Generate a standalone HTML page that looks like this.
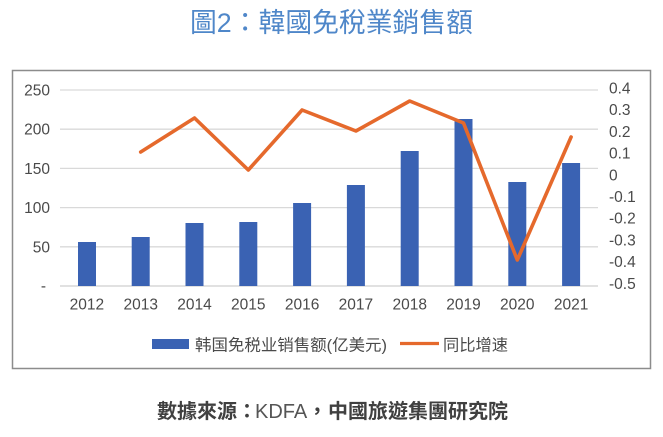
<!DOCTYPE html>
<html>
<head>
<meta charset="utf-8">
<style>
html,body{margin:0;padding:0;background:#fff;}
body{width:663px;height:437px;overflow:hidden;}
svg{display:block;}
text{font-family:"Liberation Sans","Noto Sans CJK SC",sans-serif;}
</style>
</head>
<body>
<svg width="663" height="437" viewBox="0 0 663 437" xmlns="http://www.w3.org/2000/svg">
  <rect x="0" y="0" width="663" height="437" fill="#ffffff"/>
  <!-- Title -->
  <text x="190" y="32" font-size="27" fill="#4f87c9" textLength="283" lengthAdjust="spacingAndGlyphs" style="font-family:'Liberation Sans','Noto Sans CJK TC',sans-serif;">圖2：韓國免稅業銷售額</text>

  <!-- Frame -->
  <rect x="12.5" y="70.5" width="638" height="298" fill="#ffffff" stroke="#8c8c8c" stroke-width="1.5"/>

  <!-- Gridlines -->
  <g stroke="#d9d9d9" stroke-width="1.3">
    <line x1="60" y1="90" x2="598" y2="90"/>
    <line x1="60" y1="129.2" x2="598" y2="129.2"/>
    <line x1="60" y1="168.4" x2="598" y2="168.4"/>
    <line x1="60" y1="207.6" x2="598" y2="207.6"/>
    <line x1="60" y1="246.8" x2="598" y2="246.8"/>
    <line x1="60" y1="286" x2="598" y2="286" stroke="#cfcfcf"/>
  </g>

  <!-- Bars -->
  <g fill="#3a62b3">
    <rect x="78" y="242" width="18" height="44"/>
    <rect x="131.7" y="237" width="18" height="49"/>
    <rect x="185.5" y="223" width="18" height="63"/>
    <rect x="239.3" y="222" width="18" height="64"/>
    <rect x="293.1" y="203" width="18" height="83"/>
    <rect x="346.9" y="185" width="18" height="101"/>
    <rect x="400.7" y="151" width="18" height="135"/>
    <rect x="454.5" y="119" width="18" height="167"/>
    <rect x="508.3" y="182" width="18" height="104"/>
    <rect x="562.1" y="163" width="18" height="123"/>
  </g>

  <!-- Line -->
  <polyline fill="none" stroke="#e5692c" stroke-width="3.6" stroke-linejoin="round" stroke-linecap="round"
    points="140.7,152 194.5,118 248.3,170 302.1,110 355.9,131 409.7,101 463.5,123 517.3,260 571.1,137"/>

  <!-- Left axis labels -->
  <g font-size="15.5" fill="#4a4a4a" text-anchor="end">
    <text x="50" y="95.5">250</text>
    <text x="50" y="134.7">200</text>
    <text x="50" y="173.9">150</text>
    <text x="50" y="213.1">100</text>
    <text x="50" y="252.3">50</text>
    <text x="46" y="291">-</text>
  </g>

  <!-- Right axis labels -->
  <g font-size="15.5" fill="#4a4a4a" text-anchor="start">
    <text x="609" y="93.5">0.4</text>
    <text x="609" y="115.2">0.3</text>
    <text x="609" y="136.9">0.2</text>
    <text x="609" y="158.6">0.1</text>
    <text x="609" y="180.3">0</text>
    <text x="609" y="202">-0.1</text>
    <text x="609" y="223.7">-0.2</text>
    <text x="609" y="245.4">-0.3</text>
    <text x="609" y="267.1">-0.4</text>
    <text x="609" y="288.8">-0.5</text>
  </g>

  <!-- X axis labels -->
  <g font-size="15.5" fill="#4a4a4a" text-anchor="middle">
    <text x="86.9" y="309.5">2012</text>
    <text x="140.7" y="309.5">2013</text>
    <text x="194.5" y="309.5">2014</text>
    <text x="248.3" y="309.5">2015</text>
    <text x="302.1" y="309.5">2016</text>
    <text x="355.9" y="309.5">2017</text>
    <text x="409.7" y="309.5">2018</text>
    <text x="463.5" y="309.5">2019</text>
    <text x="517.3" y="309.5">2020</text>
    <text x="571.1" y="309.5">2021</text>
  </g>

  <!-- Legend -->
  <rect x="152" y="339" width="37" height="10" fill="#3a62b3"/>
  <text x="195" y="350.5" font-size="16" fill="#4a4a4a" textLength="192" lengthAdjust="spacingAndGlyphs">韩国免税业销售额(亿美元)</text>
  <line x1="400" y1="343.5" x2="439" y2="343.5" stroke="#e5692c" stroke-width="3.2"/>
  <text x="443" y="350.5" font-size="16" fill="#4a4a4a" textLength="65" lengthAdjust="spacingAndGlyphs">同比增速</text>

  <!-- Source -->
  <text x="157" y="418" font-size="20" fill="#404040" style="font-family:'Liberation Sans','Noto Sans CJK TC',sans-serif;"><tspan font-weight="bold">數據來源：</tspan><tspan x="255" font-weight="normal" fill="#555555">KDFA</tspan><tspan font-weight="bold">，</tspan><tspan x="328" font-weight="bold">中國旅遊集團研究院</tspan></text>
</svg>
</body>
</html>
